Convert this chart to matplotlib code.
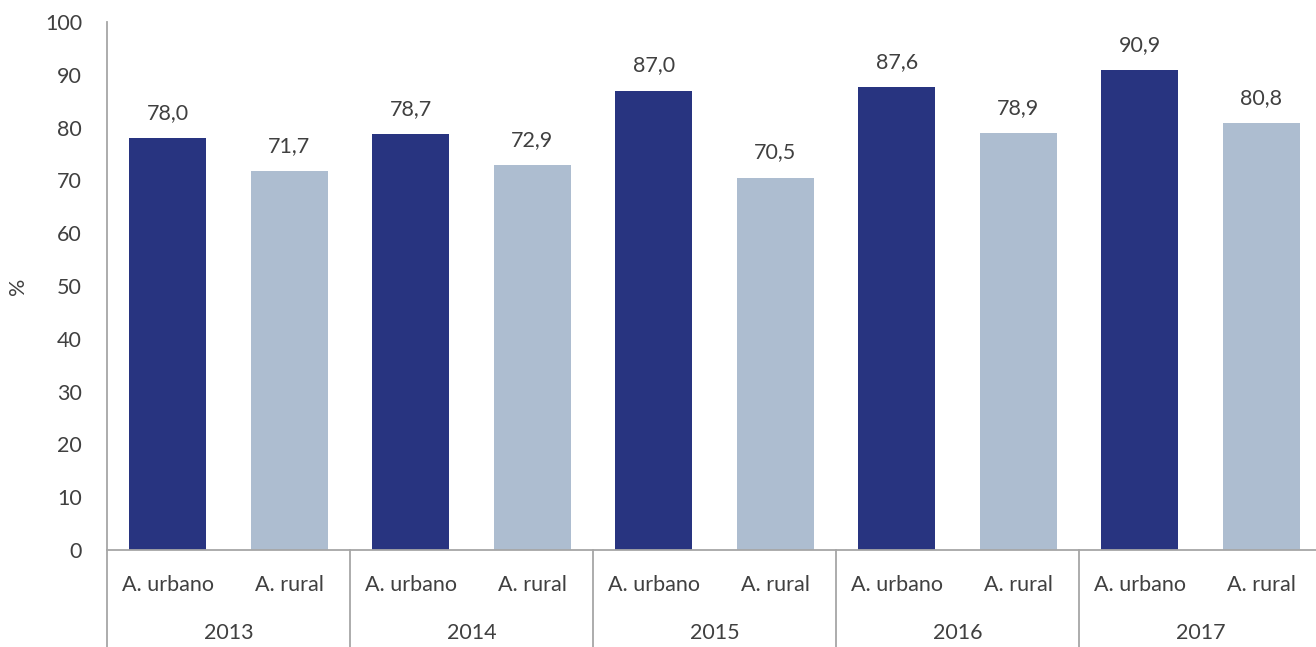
import matplotlib.pyplot as plt
import numpy as np

years = ["2013", "2014", "2015", "2016", "2017"]
areas = ["A. urbano", "A. rural"]
urbano = [78.0, 78.7, 87.0, 87.6, 90.9]
rural = [71.7, 72.9, 70.5, 78.9, 80.8]

dark = "#283480"
light = "#adbdd0"
grey = "#a6a6a6"
txt = "#404040"

plt.rcParams["font.family"] = ["Lato", "DejaVu Sans"]

fig = plt.figure(figsize=(13.16, 6.47), dpi=100)
ax = fig.add_axes((107 / 1316, 97 / 647, 1215 / 1316, (550 - 22) / 647))

vals = []
cols = []
for u, r in zip(urbano, rural):
    vals += [u, r]
    cols += [dark, light]
x = np.arange(len(vals))
ax.bar(x, vals, width=0.63, color=cols)

# value labels above the bars
for xi, v in zip(x, vals):
    ax.annotate(f"{v:.1f}".replace(".", ","), (xi, v), xytext=(0, 11),
                textcoords="offset points", ha="center", va="bottom",
                fontsize=15.5, color=txt)

ax.set_xlim(-0.5, len(vals) - 0.5)
ax.set_ylim(0, 100)
ax.set_yticks(range(0, 101, 10))
ax.tick_params(axis="y", length=0, labelsize=15.5, labelcolor=txt, pad=18)
ax.set_xticks([])
for s in ["top", "right"]:
    ax.spines[s].set_visible(False)
ax.spines["left"].set_color(grey)
ax.spines["bottom"].set_color(grey)
ax.spines["left"].set_linewidth(1.3)
ax.spines["bottom"].set_linewidth(1.3)

ax.set_ylabel("%", fontsize=15.5, color=txt, labelpad=12)

# two-level category labels below the axis
trans = ax.get_xaxis_transform()
for xi in x:
    ax.text(xi, -0.066, areas[xi % 2], transform=trans, ha="center",
            va="center", fontsize=15.5, color=txt, clip_on=False)
for i, yr in enumerate(years):
    ax.text(2 * i + 0.5, -0.157, yr, transform=trans, ha="center",
            va="center", fontsize=15.5, color=txt, clip_on=False)
for i in range(len(years) + 1):
    ax.plot([2 * i - 0.5, 2 * i - 0.5], [0, -0.2], transform=trans,
            color=grey, lw=1.3, clip_on=False)

fig.savefig("out.png", dpi=100, facecolor="white")
